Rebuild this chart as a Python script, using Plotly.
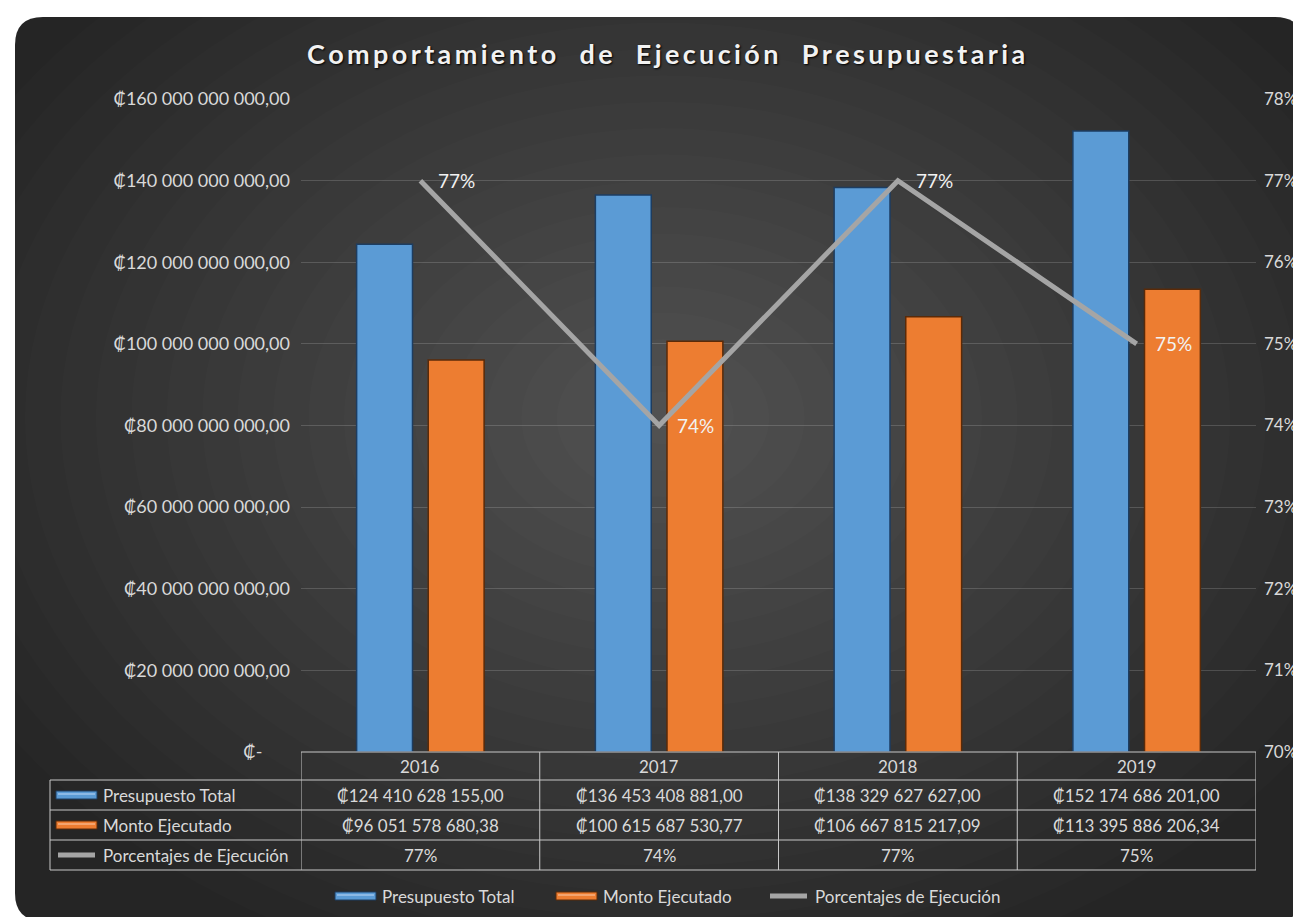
import plotly.graph_objects as go

# ---------------- data ----------------
years = ["2016", "2017", "2018", "2019"]
presupuesto_total = [124410628155.00, 136453408881.00, 138329627627.00, 152174686201.00]
monto_ejecutado = [96051578680.38, 100615687530.77, 106667815217.09, 113395886206.34]
porcentajes = [77, 74, 77, 75]
left_ticks = [0, 20e9, 40e9, 60e9, 80e9, 100e9, 120e9, 140e9, 160e9]
right_ticks = [70, 71, 72, 73, 74, 75, 76, 77, 78]
series_names = ["Presupuesto Total", "Monto Ejecutado", "Porcentajes de Ejecución"]
title_text = "Comportamiento  de  Ejecución  Presupuestaria"

# ---------------- geometry helpers ----------------
W, H = 1301, 917
PL, PR, PT, PB = 293, 1248, 91, 744  # plot area in pixels


def xp(px):
    return (px - PL) / (PR - PL)


def yp(py):
    return (PB - py) / (PB - PT)


def money(v):
    s = f"{v:,.2f}".replace(",", " ").replace(".", ",")
    return "₡" + s


def money_tick(v):
    if v == 0:
        return "₡-\u00a0\u00a0\u00a0\u00a0\u00a0\u00a0"
    return money(v)


FONT = "Lato, 'Open Sans', sans-serif"
TXT = "#d9d9d9"
BLUE = "#5b9bd5"
ORANGE = "#ed7d31"
GRAY = "#a5a5a5"
LINEC = "#c8c8c8"
FS = 17

fig = go.Figure()

fig.add_trace(go.Bar(
    x=years, y=presupuesto_total, name=series_names[0],
    marker=dict(color=BLUE, line=dict(color="#1d3d61", width=1.5)),
    showlegend=False,
))
fig.add_trace(go.Bar(
    x=years, y=monto_ejecutado, name=series_names[1],
    marker=dict(color=ORANGE, line=dict(color="#5a2a08", width=1.5)),
    showlegend=False,
))
fig.add_trace(go.Scatter(
    x=years, y=porcentajes, name=series_names[2], yaxis="y2",
    mode="lines", line=dict(color=GRAY, width=5),
    showlegend=False,
))

shapes = []
annotations = []

# ---- background: rounded dark rectangle + radial glow ----
x0, x1, y0, y1, r = 7, 1295, 9, 913, 28
path = (
    f"M {xp(x0 + r)},{yp(y0)} L {xp(x1 - r)},{yp(y0)} Q {xp(x1)},{yp(y0)} {xp(x1)},{yp(y0 + r)} "
    f"L {xp(x1)},{yp(y1 - r)} Q {xp(x1)},{yp(y1)} {xp(x1 - r)},{yp(y1)} "
    f"L {xp(x0 + r)},{yp(y1)} Q {xp(x0)},{yp(y1)} {xp(x0)},{yp(y1 - r)} "
    f"L {xp(x0)},{yp(y0 + r)} Q {xp(x0)},{yp(y0)} {xp(x0 + r)},{yp(y0)} Z"
)
shapes.append(dict(type="path", path=path, xref="paper", yref="paper",
                   fillcolor="#252525", line=dict(width=0), layer="below"))
cx, cy = 655, 410
N = 22
for i in range(N):
    f = 1 - i / N
    rx, ry = 780 * f, 580 * f
    shapes.append(dict(type="circle", xref="paper", yref="paper",
                       x0=xp(cx - rx), x1=xp(cx + rx), y0=yp(cy + ry), y1=yp(cy - ry),
                       fillcolor="rgba(255,255,255,0.01)", line=dict(width=0), layer="below"))

# ---- line labels ----
for k, p in enumerate(porcentajes):
    annotations.append(dict(x=k, y=p, xref="x", yref="y2", text=f"{p}%",
                            showarrow=False, xanchor="left", yanchor="middle", xshift=16,
                            font=dict(family=FONT, size=19, color="#f2f2f2")))

# ---- data table ----
row_y = [744, 772, 802, 832, 862]
tl = dict(color=LINEC, width=1)
shapes.append(dict(type="line", xref="paper", yref="paper", x0=0, x1=1, y0=yp(row_y[0]), y1=yp(row_y[0]), line=tl))
for yy in row_y[1:]:
    shapes.append(dict(type="line", xref="paper", yref="paper", x0=xp(42), x1=1, y0=yp(yy), y1=yp(yy), line=tl))
shapes.append(dict(type="line", xref="paper", yref="paper", x0=xp(42), x1=xp(42), y0=yp(row_y[1]), y1=yp(row_y[4]), line=tl))
for k in range(len(years) + 1):
    shapes.append(dict(type="line", xref="x", yref="paper", x0=k - 0.5, x1=k - 0.5,
                       y0=yp(row_y[0]), y1=yp(row_y[4]), line=tl))

row_values = [
    list(years),
    [money(v) for v in presupuesto_total],
    [money(v) for v in monto_ejecutado],
    [f"{p}%" for p in porcentajes],
]
for ri, vals in enumerate(row_values):
    ymid = (row_y[ri] + row_y[ri + 1]) / 2
    for k, t in enumerate(vals):
        annotations.append(dict(x=k, y=yp(ymid), xref="x", yref="paper", text=t,
                                showarrow=False, xanchor="center", yanchor="middle",
                                font=dict(family=FONT, size=FS, color=TXT)))


def legend_icon(px0, px1, pyc, kind):
    if kind == 0:
        shapes.append(dict(type="rect", xref="paper", yref="paper", x0=xp(px0), x1=xp(px1),
                           y0=yp(pyc + 4), y1=yp(pyc - 4), fillcolor=BLUE,
                           line=dict(color="#1d3d61", width=1), layer="above"))
        shapes.append(dict(type="line", xref="paper", yref="paper", x0=xp(px0 + 2), x1=xp(px1 - 2),
                           y0=yp(pyc - 1), y1=yp(pyc - 1), line=dict(color="#9cc3ea", width=1.5), layer="above"))
    elif kind == 1:
        shapes.append(dict(type="rect", xref="paper", yref="paper", x0=xp(px0), x1=xp(px1),
                           y0=yp(pyc + 4), y1=yp(pyc - 4), fillcolor=ORANGE,
                           line=dict(color="#5a2a08", width=1), layer="above"))
        shapes.append(dict(type="line", xref="paper", yref="paper", x0=xp(px0 + 2), x1=xp(px1 - 2),
                           y0=yp(pyc - 1), y1=yp(pyc - 1), line=dict(color="#f6b283", width=1.5), layer="above"))
    else:
        shapes.append(dict(type="line", xref="paper", yref="paper", x0=xp(px0 + 2), x1=xp(px1 - 2),
                           y0=yp(pyc), y1=yp(pyc), line=dict(color=GRAY, width=5), layer="above"))


for ri, name in enumerate(series_names):
    ymid = (row_y[ri + 1] + row_y[ri + 2]) / 2
    legend_icon(48, 89, ymid, ri)
    annotations.append(dict(x=xp(93), y=yp(ymid), xref="paper", yref="paper", text=name,
                            showarrow=False, xanchor="left", yanchor="middle",
                            font=dict(family=FONT, size=FS, color=TXT)))

# ---- bottom legend ----
leg_y = 888
leg_x = [327, 548, 760]
for i, name in enumerate(series_names):
    legend_icon(leg_x[i], leg_x[i] + 41, leg_y, i)
    annotations.append(dict(x=xp(leg_x[i] + 45), y=yp(leg_y), xref="paper", yref="paper", text=name,
                            showarrow=False, xanchor="left", yanchor="middle",
                            font=dict(family=FONT, size=FS, color=TXT)))

# ---- title (letter-spaced) ----
spaced = "\u200a\u200a".join(list(title_text)).replace(" ", "\u00a0")
annotations.append(dict(x=xp(658), y=yp(45), xref="paper", yref="paper",
                        text=spaced,
                        showarrow=False, xanchor="center", yanchor="middle",
                        font=dict(family=FONT, size=27, color="#f2f2f2", weight="bold",
                                  shadow="1px 1px 2px #000000")))

fig.update_layout(
    width=W, height=H,
    margin=dict(l=PL, r=W - PR, t=PT, b=H - PB, pad=0),
    paper_bgcolor="#ffffff",
    plot_bgcolor="rgba(0,0,0,0)",
    barmode="group", bargap=0.40, bargroupgap=0.22,
    shapes=shapes, annotations=annotations,
    showlegend=False,
    xaxis=dict(type="category", showticklabels=False, showgrid=False, zeroline=False,
               range=[-0.5, 3.5], fixedrange=True),
    yaxis=dict(range=[0, 160e9], tickvals=left_ticks, ticktext=[money_tick(v) for v in left_ticks],
               showgrid=True, gridcolor="rgba(255,255,255,0.16)", gridwidth=1, zeroline=False,
               tickfont=dict(family=FONT, size=18, color=TXT), ticks="", ticklabelstandoff=10),
    yaxis2=dict(range=[70, 78], tickvals=right_ticks, ticktext=[f"{v}%" for v in right_ticks],
                overlaying="y", side="right", showgrid=False, zeroline=False,
                tickfont=dict(family=FONT, size=FS, color=TXT), ticks="", ticklabelstandoff=7),
)

fig.write_html("out.html")
